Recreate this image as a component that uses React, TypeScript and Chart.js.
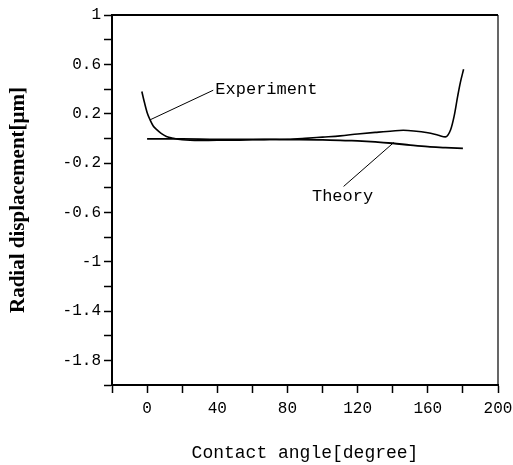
import React, { useEffect, useRef } from "react";
import { Chart, registerables } from "chart.js";

Chart.register(...registerables);

// Experiment curve (contact angle in degrees, radial displacement in μm)
const expAngle = [-3, -1.5, 0, 1.7, 3.5, 5.5, 8, 11, 15, 20, 30, 40, 50, 60, 70, 80, 90, 100, 110, 120, 130, 140, 146, 152, 160, 166, 170, 173, 175, 177, 178.5, 180.4];
const expDisp = [0.38, 0.29, 0.21, 0.15, 0.1, 0.07, 0.04, 0.015, 0.0, -0.012, -0.018, -0.015, -0.015, -0.012, -0.01, -0.008, 0.0, 0.01, 0.02, 0.035, 0.048, 0.06, 0.065, 0.06, 0.045, 0.025, 0.012, 0.07, 0.18, 0.34, 0.45, 0.56];

// Theory curve
const theoryAngle = [0, 20, 40, 60, 80, 100, 115, 120, 130, 140, 150, 160, 170, 180];
const theoryDisp = [-0.005, -0.005, -0.008, -0.008, -0.01, -0.012, -0.018, -0.02, -0.028, -0.04, -0.055, -0.068, -0.075, -0.082];

// Axis settings
const xMin = -20;
const xMax = 200;
const xStep = 20;
const yMin = -2;
const yMax = 1;
const yStep = 0.2;

// Annotation labels: text, label anchor (x, y), leader line start (x, y) and end (x, y)
const annoText = ["Experiment", "Theory"];
const annoLabelX = [38.9, 111.4];
const annoLabelY = [0.394, -0.47];
const annoAlign = ["left", "center"];
const annoLineX1 = [1.7, 140.6];
const annoLineY1 = [0.15, -0.034];
const annoLineX2 = [37.7, 112];
const annoLineY2 = [0.39, -0.39];

const framePlugin = {
  id: "frameAndNotes",
  afterDatasetsDraw(chart: any) {
    const { ctx, chartArea, scales } = chart;
    const xs = scales.x;
    const ys = scales.y;
    ctx.save();
    ctx.strokeStyle = "#000";
    // top border
    ctx.lineWidth = 2;
    ctx.beginPath();
    ctx.moveTo(chartArea.left, chartArea.top);
    ctx.lineTo(chartArea.right, chartArea.top);
    ctx.stroke();
    // right border
    ctx.lineWidth = 1.2;
    ctx.beginPath();
    ctx.moveTo(chartArea.right, chartArea.top);
    ctx.lineTo(chartArea.right, chartArea.bottom);
    ctx.stroke();
    // annotations
    ctx.lineWidth = 1;
    ctx.fillStyle = "#000";
    ctx.font = "17px 'Liberation Mono'";
    ctx.textBaseline = "middle";
    for (let i = 0; i < annoText.length; i++) {
      ctx.beginPath();
      ctx.moveTo(xs.getPixelForValue(annoLineX1[i]), ys.getPixelForValue(annoLineY1[i]));
      ctx.lineTo(xs.getPixelForValue(annoLineX2[i]), ys.getPixelForValue(annoLineY2[i]));
      ctx.stroke();
      ctx.textAlign = annoAlign[i] as CanvasTextAlign;
      ctx.fillText(annoText[i], xs.getPixelForValue(annoLabelX[i]), ys.getPixelForValue(annoLabelY[i]));
    }
    ctx.restore();
  },
};

export default function App() {
  const ref = useRef<HTMLCanvasElement | null>(null);

  useEffect(() => {
    if (!ref.current) return;
    const chart = new Chart(ref.current, {
      type: "scatter",
      data: {
        datasets: [
          {
            label: "Experiment",
            data: expAngle.map((x, i) => ({ x, y: expDisp[i] })),
            showLine: true,
            borderColor: "#000",
            borderWidth: 1.6,
            pointRadius: 0,
            cubicInterpolationMode: "monotone",
          },
          {
            label: "Theory",
            data: theoryAngle.map((x, i) => ({ x, y: theoryDisp[i] })),
            showLine: true,
            borderColor: "#000",
            borderWidth: 1.8,
            pointRadius: 0,
            cubicInterpolationMode: "monotone",
          },
        ],
      },
      options: {
        animation: false,
        responsive: false,
        devicePixelRatio: 1,
        layout: { padding: { top: 15, right: 32, left: 0, bottom: 0 } },
        plugins: { legend: { display: false }, tooltip: { enabled: false } },
        scales: {
          x: {
            type: "linear",
            min: xMin,
            max: xMax,
            afterFit: (s: any) => {
              s.height = 80;
            },
            border: { display: true, color: "#000", width: 2 },
            grid: { drawOnChartArea: false, drawTicks: true, tickLength: 8, tickColor: "#000", tickWidth: 1.5 },
            ticks: {
              stepSize: xStep,
              autoSkip: false,
              maxRotation: 0,
              color: "#000",
              padding: 6,
              font: { family: "'Liberation Mono'", size: 16 },
              callback: (v: any) => (Math.round(Number(v)) % 40 === 0 ? String(Math.round(Number(v))) : ""),
            },
            title: {
              display: true,
              text: "Contact angle[degree]",
              color: "#000",
              font: { family: "'Liberation Mono'", size: 18 },
              padding: { top: 0, bottom: 1 },
            },
          },
          y: {
            type: "linear",
            min: yMin,
            max: yMax,
            afterFit: (s: any) => {
              s.width = 112;
            },
            border: { display: true, color: "#000", width: 2 },
            grid: { drawOnChartArea: false, drawTicks: true, tickLength: 8, tickColor: "#000", tickWidth: 1.5 },
            ticks: {
              stepSize: yStep,
              autoSkip: false,
              color: "#000",
              padding: 3,
              font: { family: "'Liberation Mono'", size: 16 },
              callback: (v: any) => {
                const n = Math.round((yMax - Number(v)) / yStep);
                if (n % 2 !== 0) return "";
                return String(parseFloat(Number(v).toFixed(1)));
              },
            },
            title: {
              display: true,
              text: "Radial displacement[μm]",
              color: "#000",
              font: { family: "'Liberation Serif'", size: 21, weight: "bold" },
              padding: { top: 6, bottom: 0 },
            },
          },
        },
      },
      plugins: [framePlugin],
    });
    return () => chart.destroy();
  }, []);

  return (
    <div style={{ position: "fixed", left: 0, top: 0, width: 513, height: 465, overflow: "hidden", background: "#fff" }}>
      <canvas ref={ref} width={530} height={465} style={{ display: "block" }} />
    </div>
  );
}
